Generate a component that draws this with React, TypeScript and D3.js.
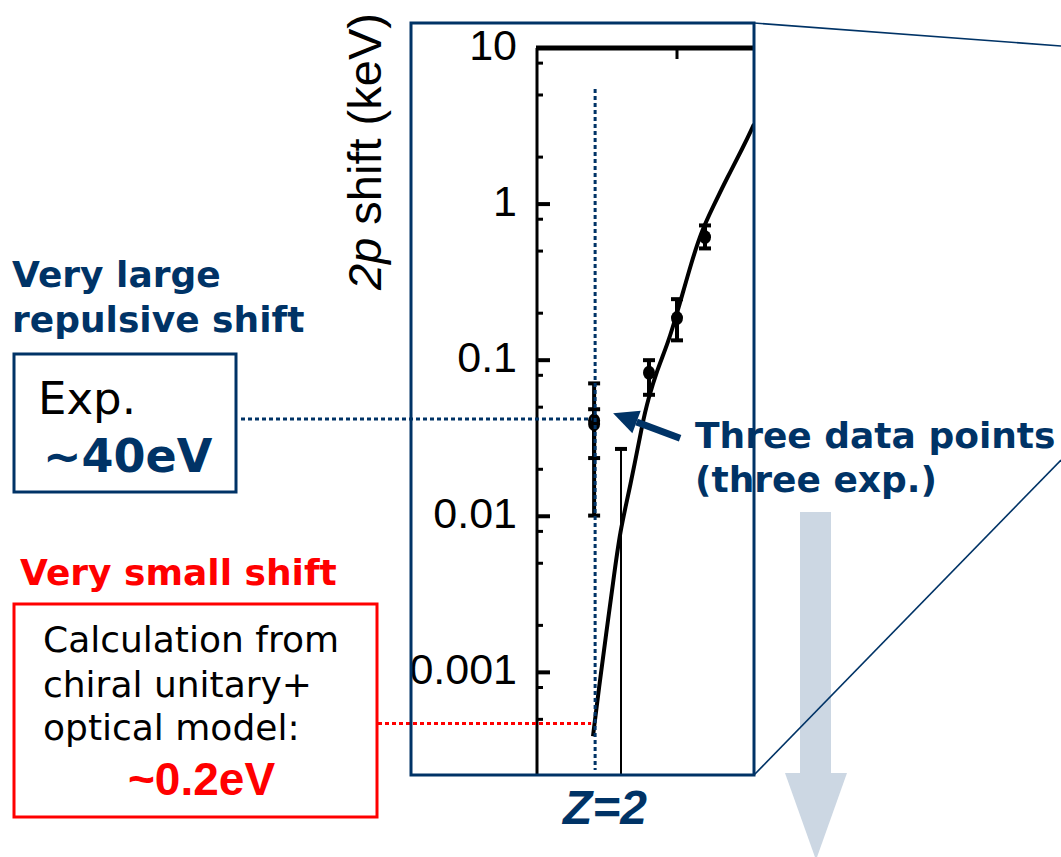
import React from "react";
import * as d3 from "d3";

// theory curve (2p shift vs Z)
const curveZ = [2.0, 2.214, 2.464, 2.714, 2.964, 3.32, 3.786, 3.964, 4.286, 4.679, 5.036, 5.536, 5.893, 6.286, 6.786, 7.357, 7.75];
const curveShift = [0.00039, 0.0008, 0.00173, 0.00372, 0.0081, 0.0151, 0.0412, 0.0554, 0.0863, 0.1285, 0.2094, 0.4375, 0.681, 0.96, 1.47, 2.3, 3.25];

// measured points with error bars
const pointZ = [2.04, 2.04, 4, 5, 6];
const pointShift = [0.039, 0.041, 0.083, 0.186, 0.614];
const pointLow = [0.0101, 0.0236, 0.06, 0.134, 0.52];
const pointHigh = [0.071, 0.0485, 0.1, 0.246, 0.73];

// upper-limit style bar (Li)
const limitZ = [3];
const limitHigh = [0.027];

const majorTicks = [10, 1, 0.1, 0.01, 0.001];
const majorLabels = ["10", "1", "0.1", "0.01", "0.001"];
const minorTicks = [8, 5, 2, 0.8, 0.5, 0.2, 0.08, 0.05, 0.02, 0.008, 0.005, 0.002, 0.0008, 0.0005];
const topTicks = [5];

const expShift = 0.042; // ~40 eV
const calcShift = 0.00047; // ~0.2 eV level on the plot

const navy = "#003366";
const red = "#ff0000";
const sans = "'DejaVu Sans', Verdana, sans-serif";
const arial = "'Liberation Sans', Arial, sans-serif";

export default function App() {
  const W = 1061;
  const H = 857;
  const plot = { left: 537, right: 754, top: 48, bottom: 775 };

  const x = d3.scaleLinear().domain([0, 7.75]).range([plot.left, plot.right]);
  const y = d3.scaleLog().domain([0.00022, 10]).range([plot.bottom, plot.top]);

  const curve = curveZ.map((z, i) => [z, curveShift[i]] as [number, number]);
  const line = d3
    .line<[number, number]>()
    .x((d) => x(d[0]))
    .y((d) => y(d[1]))
    .curve(d3.curveBasis);

  const zGuide = x(2.04) + 1;
  const yExp = y(expShift);
  const yCalc = y(calcShift);

  // navy arrow pointing at the Z=2 points
  const tip: [number, number] = [x(2.04) + 19, y(0.04) - 9];
  const tail: [number, number] = [tip[0] + 67, tip[1] + 25];
  const dx = tail[0] - tip[0];
  const dy = tail[1] - tip[1];
  const len = Math.hypot(dx, dy);
  const ux = dx / len;
  const uy = dy / len;
  const headLen = 25;
  const headHalf = 12;
  const bx = tip[0] + ux * headLen;
  const by = tip[1] + uy * headLen;
  const head = [
    tip,
    [bx - uy * headHalf, by + ux * headHalf],
    [bx + uy * headHalf, by - ux * headHalf],
  ];

  return (
    <svg
      width={W}
      height={H}
      style={{ position: "absolute", left: 0, top: 0, background: "#fff" }}
    >
      <defs>
        <clipPath id="plotClip">
          <rect x={plot.left} y={plot.top - 4} width={plot.right - plot.left} height={plot.bottom - plot.top + 4} />
        </clipPath>
      </defs>

      {/* left annotations */}
      <text x={12} y={287} fontFamily={sans} fontWeight="bold" fontSize={36} fill={navy}>
        Very large
      </text>
      <text x={12} y={332} fontFamily={sans} fontWeight="bold" fontSize={36} fill={navy}>
        repulsive shift
      </text>
      <rect x={14} y={354} width={222} height={138} fill="none" stroke={navy} strokeWidth={3} />
      <text x={38} y={414} fontFamily={sans} fontSize={45} fill="#000">
        Exp.
      </text>
      <text x={43} y={472} fontFamily={sans} fontWeight="bold" fontSize={46} fill={navy}>
        ~40eV
      </text>

      <text x={20} y={585} fontFamily={sans} fontWeight="bold" fontSize={36} fill={red}>
        Very small shift
      </text>
      <rect x={14} y={604} width={363} height={213} fill="none" stroke={red} strokeWidth={3} />
      <text fontFamily={sans} fontSize={36} fill="#000">
        <tspan x={43} y={652}>Calculation from</tspan>
        <tspan x={43} y={697}>chiral unitary+</tspan>
        <tspan x={43} y={740}>optical model:</tspan>
      </text>
      <text x={128} y={795} fontFamily={arial} fontWeight="bold" fontSize={46} fill={red}>
        ~0.2eV
      </text>

      {/* y axis title */}
      <text
        transform="translate(381,290) rotate(-90)"
        fontFamily={arial}
        fontSize={47}
        fill="#000"
      >
        <tspan fontStyle="italic">2p</tspan> shift (keV)
      </text>

      {/* tick labels */}
      {majorTicks.map((t, i) => (
        <text
          key={"lbl" + t}
          x={517}
          y={y(t) + 12}
          textAnchor="end"
          fontFamily={arial}
          fontSize={43}
          fill="#000"
        >
          {majorLabels[i]}
        </text>
      ))}

      {/* plot axes */}
      <line x1={plot.left} x2={plot.left} y1={plot.top} y2={plot.bottom} stroke="#000" strokeWidth={3} />
      <line x1={plot.left - 1} x2={plot.right} y1={plot.top} y2={plot.top} stroke="#000" strokeWidth={5} />
      {topTicks.map((t) => (
        <line key={"tt" + t} x1={x(t)} x2={x(t)} y1={plot.top} y2={plot.top + 11} stroke="#000" strokeWidth={3} />
      ))}
      {majorTicks.slice(1).map((t) => (
        <line key={"mj" + t} x1={plot.left} x2={plot.left + 13} y1={y(t)} y2={y(t)} stroke="#000" strokeWidth={4} />
      ))}
      {minorTicks.map((t) => (
        <line key={"mn" + t} x1={plot.left} x2={plot.left + 6} y1={y(t)} y2={y(t)} stroke="#000" strokeWidth={3} />
      ))}

      <g clipPath="url(#plotClip)">
        {/* Li upper-limit bar */}
        {limitZ.map((z, i) => (
          <g key={"lim" + z}>
            <line x1={x(z)} x2={x(z)} y1={y(limitHigh[i])} y2={plot.bottom} stroke="#000" strokeWidth={2} />
            <line x1={x(z) - 6} x2={x(z) + 6} y1={y(limitHigh[i])} y2={y(limitHigh[i])} stroke="#000" strokeWidth={4} />
          </g>
        ))}

        {/* theory curve */}
        <path d={line(curve) || ""} fill="none" stroke="#000" strokeWidth={4} strokeLinejoin="round" />

        {/* data points */}
        {pointZ.map((z, i) => (
          <g key={"pt" + i}>
            <line x1={x(z)} x2={x(z)} y1={y(pointLow[i])} y2={y(pointHigh[i])} stroke="#000" strokeWidth={4} />
            <line x1={x(z) - 6} x2={x(z) + 6} y1={y(pointLow[i])} y2={y(pointLow[i])} stroke="#000" strokeWidth={4} />
            <line x1={x(z) - 6} x2={x(z) + 6} y1={y(pointHigh[i])} y2={y(pointHigh[i])} stroke="#000" strokeWidth={4} />
            <ellipse cx={x(z)} cy={y(pointShift[i])} rx={6} ry={7} fill="#000" />
          </g>
        ))}
      </g>

      {/* dotted guides */}
      <line x1={zGuide} x2={zGuide} y1={89} y2={770} stroke={navy} strokeWidth={3} strokeDasharray="4,3" />
      <line x1={241} x2={zGuide - 3} y1={yExp} y2={yExp} stroke={navy} strokeWidth={3} strokeDasharray="4,3" />
      <line x1={378} x2={zGuide - 4} y1={yCalc} y2={yCalc} stroke={red} strokeWidth={3} strokeDasharray="4,3" />

      {/* arrow to data */}
      <line x1={tail[0]} y1={tail[1]} x2={bx} y2={by} stroke={navy} strokeWidth={7} />
      <polygon points={head.map((p) => p.join(",")).join(" ")} fill={navy} />

      <text x={695} y={448} fontFamily={sans} fontWeight="bold" fontSize={36} fill={navy}>
        Three data points
      </text>
      <text x={695} y={492} fontFamily={sans} fontWeight="bold" fontSize={36} fill={navy}>
        (three exp.)
      </text>

      {/* Z label */}
      <text x={605} y={824} textAnchor="middle" fontFamily={arial} fontWeight="bold" fontStyle="italic" fontSize={48} fill={navy}>
        Z=2
      </text>

      {/* light down arrow */}
      <rect x={800} y={512} width={31} height={262} fill="#ccd7e3" />
      <polygon points="785,773 847,773 816,860" fill="#ccd7e3" />

      {/* zoom frame */}
      <rect x={411} y={23} width={343} height={752} fill="none" stroke={navy} strokeWidth={3} />
      <line x1={754} y1={23} x2={1061} y2={46} stroke={navy} strokeWidth={1.6} />
      <line x1={754} y1={775} x2={1061} y2={460} stroke={navy} strokeWidth={1.6} />
    </svg>
  );
}
